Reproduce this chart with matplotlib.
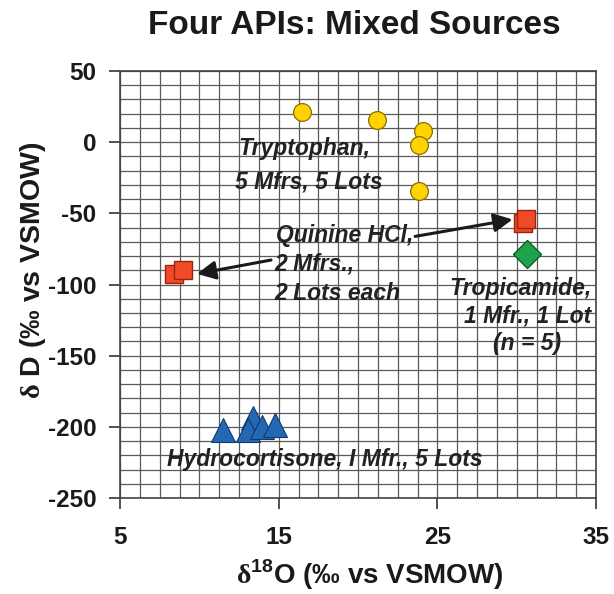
import matplotlib
matplotlib.use("Agg")
import matplotlib.pyplot as plt
from matplotlib.ticker import MultipleLocator

plt.rcParams['font.family'] = ['Liberation Sans', 'DejaVu Sans']
plt.rcParams['font.weight'] = 'bold'
plt.rcParams['axes.unicode_minus'] = False
plt.rcParams['mathtext.fontset'] = 'custom'
plt.rcParams['mathtext.rm'] = 'Liberation Serif'
plt.rcParams['mathtext.bf'] = 'Liberation Sans:bold'

# ==== data ====
trp_x = [16.44, 21.18, 24.10, 23.84, 23.84]
trp_y = [21.0, 15.6, 8.0, -2.1, -34.4]

qui_x = [8.38, 8.97, 30.38, 30.59]
qui_y = [-92.5, -90.1, -56.7, -54.3]

tro_x = [30.65]
tro_y = [-78.6]

hyd_x = [11.47, 13.36, 13.09, 13.97, 14.77]
hyd_y = [-202.1, -193.5, -201.9, -200.0, -198.8]

x_ticks = [5, 15, 25, 35]
y_ticks = [-250, -200, -150, -100, -50, 0, 50]

# ==== figure ====
fig = plt.figure(figsize=(6.14, 5.94), dpi=100)
ax = fig.add_axes([120/614, 1-498/594, (596-120)/614, (498-71)/594])

ax.set_xlim(5, 35)
ax.set_ylim(-250, 50)
ax.set_xticks(x_ticks)
ax.set_yticks(y_ticks)
ax.xaxis.set_minor_locator(MultipleLocator(1.25))
ax.yaxis.set_minor_locator(MultipleLocator(10))
ax.grid(True, which='both', color='#5a5a5a', lw=0.9)
ax.set_axisbelow(True)
ax.tick_params(which='minor', length=0)
ax.tick_params(which='major', direction='out', length=8, width=1.2, color='#333333',
               labelsize=17.5, labelcolor='#1a1a1a')
ax.tick_params(axis='x', pad=12)
ax.tick_params(axis='y', pad=9)
for s in ax.spines.values():
    s.set_color('#444444')
    s.set_linewidth(1.2)

ax.plot(trp_x, trp_y, 'o', ms=12.8, mfc='#FFD200', mec='#8a7000', mew=0.9, ls='none', zorder=3)
ax.plot(qui_x, qui_y, 's', ms=13, mfc='#EE4B26', mec='#A02010', mew=1.0, ls='none', zorder=3)
ax.plot(tro_x, tro_y, 'D', ms=14, mfc='#1FA34A', mec='#0D5A22', mew=1.0, ls='none', zorder=3)
ax.plot(hyd_x, hyd_y, '^', ms=17, mfc='#2468B4', mec='#0F3A70', mew=0.8, ls='none', zorder=3)

# ==== annotations ====
txt = dict(fontsize=16.5, fontweight='bold', style='italic', color='#222222', va='baseline', zorder=4)
ax.text(12.44, -9.1, "Tryptophan,", **txt)
ax.text(12.25, -32.3, "5 Mfrs, 5 Lots", **txt)
ax.text(14.83, -70.2, "Quinine HCl,", **txt)
ax.text(14.71, -90.5, "2 Mfrs.,", **txt)
ax.text(14.71, -110.9, "2 Lots each", **txt)
ax.text(34.72, -107.4, "Tropicamide,", ha='right', **txt)
ax.text(34.72, -127.0, "1 Mfr., 1 Lot", ha='right', **txt)
ax.text(30.65, -146.0, "(n = 5)", ha='center', **txt)
ax.text(7.96, -227.4, "Hydrocortisone, I Mfr., 5 Lots", **txt)

arr = dict(arrowstyle='-|>', mutation_scale=28, lw=2.2, color='#1a1a1a', shrinkA=0, shrinkB=0)
ax.annotate("", xy=(29.74, -54.3), xytext=(23.6, -66.2), arrowprops=arr, zorder=4)
ax.annotate("", xy=(9.85, -92.5), xytext=(14.52, -82.8), arrowprops=arr, zorder=4)

# ==== titles ====
fig.text(354.5/614, 1-25/594, "Four APIs: Mixed Sources", fontsize=24, fontweight='bold',
         ha='center', va='center', color='#1a1a1a')
fig.text(370/614, 1-575/594, r"$\mathrm{\delta}^{\mathbf{18}}$O (‰ vs VSMOW)", fontsize=20,
         fontweight='bold', ha='center', va='center', color='#1a1a1a')
fig.text(33/614, 1-270/594, r"$\mathrm{\delta}$ D (‰ vs VSMOW)", fontsize=20.5,
         fontweight='bold', ha='center', va='center', rotation=90, color='#1a1a1a')

fig.savefig("out.png", dpi=100)
